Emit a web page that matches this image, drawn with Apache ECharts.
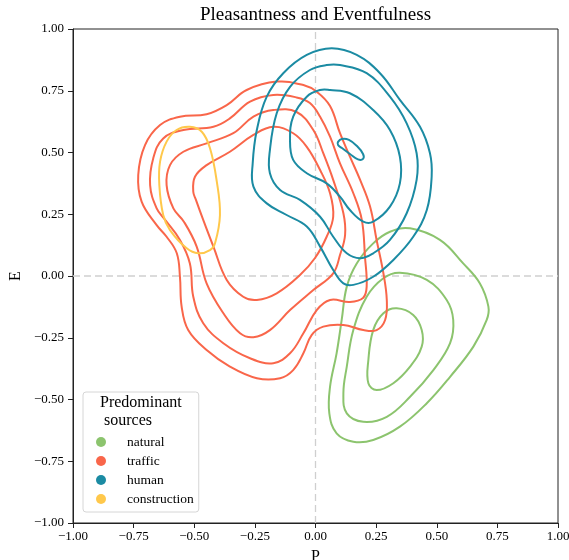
<!DOCTYPE html>
<html>
<head>
<meta charset="utf-8">
<script src="https://cdn.jsdelivr.net/npm/echarts@6/dist/echarts.min.js"></script>
<style>html,body{margin:0;padding:0;background:#fff;}#chart{width:569px;height:560px;}</style>
</head>
<body>
<div id="chart"></div>
<script>
// ---- Data (P, E) contour paths ----
const categories = ['natural', 'traffic', 'human', 'construction'];
const colors = ['#8CC46E', '#F9664A', '#1B8BA3', '#FFC84B'];
const tickValues = [-1, -0.75, -0.5, -0.25, 0, 0.25, 0.5, 0.75, 1];

const natural1 = [[0.390,0.193],[0.513,0.146],[0.609,0.051],[0.678,-0.030],[0.713,-0.124],[0.706,-0.178],[0.651,-0.286],[0.555,-0.408],[0.459,-0.515],[0.348,-0.610],[0.238,-0.664],[0.156,-0.671],[0.087,-0.637],[0.057,-0.556],[0.060,-0.448],[0.087,-0.313],[0.108,-0.178],[0.129,-0.043],[0.170,0.051],[0.238,0.132],[0.307,0.179]];
const natural2 = [[0.348,0.013],[0.459,-0.016],[0.541,-0.097],[0.568,-0.178],[0.555,-0.272],[0.486,-0.381],[0.390,-0.489],[0.294,-0.570],[0.197,-0.590],[0.129,-0.556],[0.115,-0.475],[0.129,-0.367],[0.156,-0.219],[0.211,-0.084],[0.280,-0.009]];
const natural3 = [[0.335,-0.131],[0.403,-0.158],[0.438,-0.219],[0.438,-0.286],[0.390,-0.367],[0.321,-0.434],[0.252,-0.462],[0.218,-0.434],[0.218,-0.340],[0.238,-0.219],[0.280,-0.151]];

const traffic1 = [[-0.160,0.787],[-0.050,0.773],[0.005,0.746],[0.060,0.688],[0.101,0.578],[0.142,0.483],[0.184,0.389],[0.225,0.281],[0.252,0.146],[0.280,0.011],[0.294,-0.097],[0.287,-0.178],[0.252,-0.219],[0.197,-0.219],[0.115,-0.198],[0.032,-0.205],[-0.016,-0.239],[-0.050,-0.313],[-0.092,-0.381],[-0.146,-0.414],[-0.242,-0.414],[-0.353,-0.367],[-0.449,-0.300],[-0.525,-0.219],[-0.552,-0.124],[-0.559,-0.003],[-0.572,0.092],[-0.614,0.159],[-0.655,0.206],[-0.717,0.301],[-0.731,0.409],[-0.703,0.530],[-0.641,0.611],[-0.559,0.645],[-0.449,0.655],[-0.366,0.692],[-0.284,0.753]];
const traffic2 = [[-0.174,0.733],[-0.078,0.723],[-0.023,0.700],[0.019,0.645],[0.060,0.564],[0.101,0.456],[0.156,0.335],[0.191,0.227],[0.204,0.078],[0.211,-0.043],[0.196,-0.089],[0.142,-0.105],[0.060,-0.097],[0.005,-0.138],[-0.050,-0.232],[-0.105,-0.313],[-0.174,-0.353],[-0.270,-0.333],[-0.380,-0.272],[-0.463,-0.191],[-0.504,-0.084],[-0.518,0.051],[-0.559,0.146],[-0.620,0.227],[-0.655,0.274],[-0.682,0.368],[-0.669,0.477],[-0.628,0.557],[-0.545,0.591],[-0.421,0.604],[-0.353,0.638],[-0.270,0.706]];
const traffic3 = [[-0.174,0.672],[-0.078,0.664],[-0.009,0.591],[0.032,0.497],[0.073,0.389],[0.115,0.254],[0.122,0.166],[0.101,0.085],[0.073,0.011],[-0.009,-0.057],[-0.105,-0.138],[-0.188,-0.219],[-0.256,-0.248],[-0.311,-0.232],[-0.380,-0.151],[-0.449,-0.030],[-0.490,0.119],[-0.542,0.219],[-0.586,0.274],[-0.614,0.368],[-0.600,0.449],[-0.545,0.503],[-0.449,0.537],[-0.339,0.578],[-0.256,0.645]];
const traffic4 = [[-0.174,0.604],[-0.092,0.578],[-0.036,0.523],[0.019,0.429],[0.060,0.335],[0.073,0.240],[0.046,0.159],[-0.002,0.073],[-0.064,0.004],[-0.160,-0.070],[-0.242,-0.097],[-0.298,-0.084],[-0.366,-0.016],[-0.421,0.119],[-0.463,0.227],[-0.493,0.308],[-0.504,0.341],[-0.497,0.402],[-0.449,0.449],[-0.353,0.503],[-0.256,0.571]];

const human1 = [[0.067,0.922],[0.170,0.895],[0.266,0.821],[0.348,0.713],[0.431,0.604],[0.472,0.497],[0.479,0.402],[0.459,0.267],[0.403,0.159],[0.321,0.065],[0.238,-0.003],[0.156,-0.036],[0.115,-0.030],[0.073,0.024],[0.019,0.119],[-0.036,0.200],[-0.119,0.247],[-0.201,0.294],[-0.256,0.362],[-0.259,0.456],[-0.242,0.591],[-0.201,0.726],[-0.133,0.821],[-0.036,0.895]];
const human2 = [[0.101,0.854],[0.211,0.821],[0.307,0.726],[0.376,0.618],[0.417,0.497],[0.417,0.389],[0.376,0.254],[0.307,0.146],[0.238,0.092],[0.184,0.072],[0.129,0.092],[0.073,0.159],[0.019,0.240],[-0.064,0.308],[-0.146,0.348],[-0.188,0.416],[-0.188,0.510],[-0.160,0.659],[-0.105,0.766],[-0.023,0.834],[0.046,0.854]];
const human3 = [[0.060,0.753],[0.142,0.740],[0.238,0.672],[0.307,0.591],[0.348,0.483],[0.348,0.375],[0.307,0.281],[0.238,0.220],[0.197,0.220],[0.142,0.267],[0.101,0.321],[0.046,0.375],[-0.036,0.416],[-0.092,0.470],[-0.105,0.551],[-0.092,0.645],[-0.036,0.726],[0.019,0.753]];
const human4 = [[0.093,0.543],[0.109,0.555],[0.138,0.551],[0.171,0.526],[0.196,0.494],[0.196,0.474],[0.175,0.472],[0.142,0.494],[0.109,0.518],[0.093,0.530]];

const construction1 = [[-0.518,0.604],[-0.469,0.584],[-0.435,0.517],[-0.407,0.382],[-0.394,0.247],[-0.414,0.134],[-0.435,0.105],[-0.483,0.092],[-0.531,0.112],[-0.600,0.186],[-0.628,0.247],[-0.644,0.368],[-0.641,0.463],[-0.614,0.544],[-0.573,0.591]];

const zeroP = [[0, -1], [0, 1]];
const zeroE = [[-1, 0], [1, 0]];

const contourSets = [
  [natural1, natural2, natural3],
  [traffic1, traffic2, traffic3, traffic4],
  [human1, human2, human3, human4],
  [construction1]
];

const FONT = '"Liberation Serif", "DejaVu Serif", serif';
const fmt = v => (v < 0 ? '\u2212' : '') + Math.abs(v).toFixed(2);

const series = [];
[zeroP, zeroE].forEach(d => series.push({
  type: 'line', name: 'ref', data: d, silent: true, showSymbol: false, z: 1,
  lineStyle: { color: '#cfcfcf', width: 1.3, type: [7, 4] }
}));
contourSets.forEach((set, i) => {
  set.forEach(path => {
    series.push({
      type: 'custom', name: categories[i], data: path, silent: true, z: 2 + i,
      coordinateSystem: 'cartesian2d',
      itemStyle: { color: colors[i] },
      renderItem: function (params, api) {
        if (params.dataIndex !== 0) return null;
        return {
          type: 'polygon',
          shape: { points: path.map(p => api.coord(p)), smooth: 0.4 },
          style: { fill: null, stroke: colors[i], lineWidth: 2, lineJoin: 'round' }
        };
      }
    });
  });
});

const chart = echarts.init(document.getElementById('chart'), null, { renderer: 'canvas' });
chart.setOption({
  animation: false,
  backgroundColor: '#fff',
  grid: { left: 73, top: 29, width: 485, height: 494, show: true, borderColor: '#222', borderWidth: 1,
          backgroundColor: 'transparent', containLabel: false, outerBoundsMode: 'none' },
  xAxis: {
    type: 'value', min: -1, max: 1, interval: 0.25,
    name: 'P', nameLocation: 'middle', nameGap: 26, nameMoveOverlap: false,
    nameTextStyle: { fontFamily: FONT, fontSize: 16, color: '#000' },
    axisLine: { show: true, onZero: false, lineStyle: { color: '#222', width: 1 } },
    axisTick: { show: true, inside: false, length: 5, lineStyle: { color: '#222' } },
    axisLabel: { formatter: fmt, fontFamily: FONT, fontSize: 13, color: '#000', margin: 7, showMinLabel: true, showMaxLabel: true },
    splitLine: { show: false }
  },
  yAxis: {
    type: 'value', min: -1, max: 1, interval: 0.25,
    name: 'E', nameLocation: 'middle', nameGap: 49, nameRotate: 90, nameMoveOverlap: false,
    nameTextStyle: { fontFamily: FONT, fontSize: 16, color: '#000' },
    axisLine: { show: true, onZero: false, lineStyle: { color: '#222', width: 1 } },
    axisTick: { show: true, inside: false, length: 5, lineStyle: { color: '#222' } },
    axisLabel: { formatter: fmt, fontFamily: FONT, fontSize: 13, color: '#000', margin: 9, showMinLabel: true, showMaxLabel: true },
    splitLine: { show: false }
  },
  legend: {
    data: categories, orient: 'vertical', left: 83, top: 392,
    padding: [43, 5, 6, 13], itemGap: 5, itemWidth: 10, itemHeight: 10,
    icon: 'circle', selectedMode: false,
    borderColor: '#d6d6d6', borderWidth: 1, borderRadius: 3, backgroundColor: 'rgba(255,255,255,0.8)',
    textStyle: { fontFamily: FONT, fontSize: 13.5, color: '#000', lineHeight: 14, padding: [0, 0, 0, 16] }
  },
  graphic: [
    { type: 'text', x: 315.5, y: 15, z: 100,
      style: { text: 'Pleasantness and Eventfulness', font: '19px ' + FONT, fill: '#000', align: 'center', verticalAlign: 'middle' } },
    { type: 'text', left: 100, top: 395, z: 100,
      style: { text: 'Predominant', font: '16px ' + FONT, fill: '#000' } },
    { type: 'text', left: 104, top: 413, z: 100,
      style: { text: 'sources', font: '16px ' + FONT, fill: '#000' } }
  ],
  series: series
});
</script>
</body>
</html>
